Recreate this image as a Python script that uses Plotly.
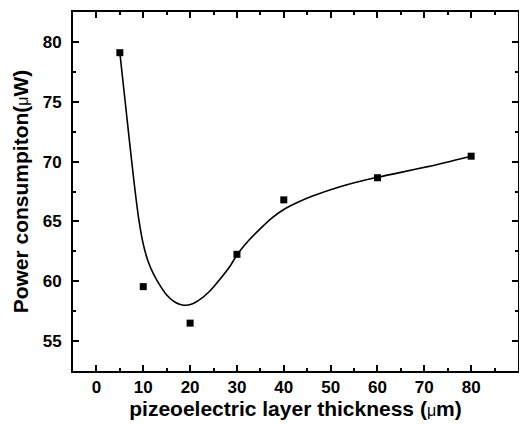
import plotly.graph_objects as go

# measured data points
thickness = [5, 10, 20, 30, 40, 60, 80]
power = [79.1, 59.55, 56.5, 62.25, 66.8, 68.65, 70.45]

# fitted curve
fit_x = [5, 6, 7, 8, 9, 10, 11, 12.2, 13.5, 15, 16.8, 18.6, 20.4, 22.2, 24, 25.8, 28.6, 30, 32.5, 35, 37.5, 40, 43, 46, 52, 59, 65, 71, 80]
fit_y = [79.1, 75.5, 71.9, 68.4, 65.3, 63.1, 61.7, 60.6, 59.7, 58.85, 58.25, 58.0, 58.1, 58.5, 59.1, 59.9, 61.3, 62.2, 63.4, 64.4, 65.3, 66.0, 66.6, 67.1, 67.9, 68.6, 69.1, 69.6, 70.45]

x_ticks = [0, 10, 20, 30, 40, 50, 60, 70, 80, 90]
y_ticks = [55, 60, 65, 70, 75, 80]

fig = go.Figure()
fig.add_trace(go.Scatter(x=fit_x, y=fit_y, mode="lines",
                         line=dict(color="black", width=1.6, shape="spline", smoothing=0.6),
                         showlegend=False, hoverinfo="skip"))
fig.add_trace(go.Scatter(x=thickness, y=power, mode="markers",
                         marker=dict(symbol="square", size=7, color="black"),
                         showlegend=False))

font_family = "Liberation Sans"
axis_common = dict(
    showline=True, linecolor="black", linewidth=2, mirror="allticks",
    ticks="inside", ticklen=6, tickwidth=2, tickcolor="black",
    showgrid=False, zeroline=False, automargin=False,
    tickfont=dict(family=font_family, size=17, color="black"),
)
mu = '<span style="font-weight:normal;font-size:16px">μ</span>'

# the page body has an 8px default margin, so the figure is sized to fit the window
fig.update_layout(
    width=519, height=416,
    margin=dict(l=65, r=9, t=4, b=53),
    paper_bgcolor="white", plot_bgcolor="white",
    xaxis=dict(range=[-5, 90], tickvals=x_ticks,
               ticktext=[f"<b>{v}</b>" for v in x_ticks],
               ticklabelstandoff=0,
               minor=dict(dtick=5, ticks="inside", ticklen=3, tickwidth=2, tickcolor="black"),
               title=dict(text=f'<b>pizeoelectric layer thickness (</b>{mu}<b>m)</b>',
                          font=dict(family=font_family, size=21, color="black"),
                          standoff=2),
               **axis_common),
    yaxis=dict(range=[52.5, 82.5], tickvals=y_ticks,
               ticktext=[f"<b>{v}</b>" for v in y_ticks],
               ticklabelstandoff=6,
               minor=dict(dtick=2.5, ticks="inside", ticklen=3, tickwidth=2, tickcolor="black"),
               title=dict(text=f'<b>Power consumpiton(</b>{mu}<b>W)</b>',
                          font=dict(family=font_family, size=21, color="black"),
                          standoff=8),
               **axis_common),
)

fig.write_html("out.html")
